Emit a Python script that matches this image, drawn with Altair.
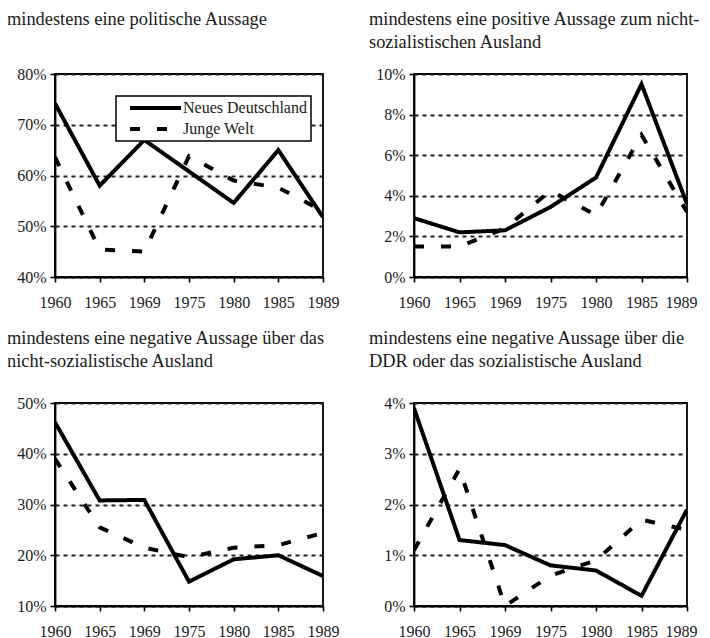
import altair as alt
import pandas as pd

years = ["1960", "1965", "1969", "1975", "1980", "1985", "1989"]
series = ["Neues Deutschland", "Junge Welt"]

# Panel 1: mindestens eine politische Aussage
p1_nd = [74.2, 58.0, 67.0, 60.8, 54.6, 65.0, 51.8]
p1_jw = [63.6, 45.4, 45.0, 63.8, 59.0, 57.6, 53.0]
# Panel 2: positive Aussage zum nicht-sozialistischen Ausland
p2_nd = [2.9, 2.2, 2.3, 3.45, 4.9, 9.5, 3.6]
p2_jw = [1.5, 1.5, 2.4, 4.25, 3.05, 7.0, 3.2]
# Panel 3: negative Aussage über das nicht-sozialistische Ausland
p3_nd = [46.2, 30.8, 30.9, 14.8, 19.2, 20.0, 15.9]
p3_jw = [39.0, 25.5, 21.5, 19.6, 21.5, 22.0, 24.4]
# Panel 4: negative Aussage über die DDR oder das sozialistische Ausland
p4_nd = [3.9, 1.3, 1.2, 0.8, 0.7, 0.2, 1.9]
p4_jw = [1.1, 2.7, 0.0, 0.6, 0.9, 1.7, 1.5]

titles = [
    ["mindestens eine politische Aussage", " "],
    ["mindestens eine positive Aussage zum nicht-", "sozialistischen Ausland"],
    ["mindestens eine negative Aussage über das", "nicht-sozialistische Ausland"],
    ["mindestens eine negative Aussage über die", "DDR oder das sozialistische Ausland"],
]
domains = [[40, 80], [0, 10], [10, 50], [0, 4]]
ticks = [[40, 50, 60, 70, 80], [0, 2, 4, 6, 8, 10], [10, 20, 30, 40, 50], [0, 1, 2, 3, 4]]

FONT = "Liberation Serif"
INK = "#1a1a1a"


def panel(nd, jw, dom, tk, title, dx, toff, width, shift_last=False, legend=False):
    df = pd.DataFrame({
        "Jahr": years * 2,
        "Serie": [series[0]] * len(years) + [series[1]] * len(years),
        "Wert": nd + jw,
    })
    if legend:
        leg = alt.Legend(
            title=None, orient="none", legendX=61, legendY=22,
            symbolType="stroke", symbolSize=2601, symbolStrokeWidth=4,
            symbolStrokeColor="black", symbolOffset=8, clipHeight=16,
            labelFont=FONT, labelFontSize=16, labelColor=INK, labelOffset=0,
            labelExpr="datum.label + '\u00a0\u00a0\u00a0\u00a0'",
            fillColor="white", strokeColor="black",
            padding=4, rowPadding=5,
        )
    else:
        leg = None
    xaxis = dict(title=None, labelAngle=0, tickSize=5, labelPadding=12, grid=False)
    if shift_last:
        xaxis["labelOffset"] = alt.ExprRef("datum.value == '1989' ? -6 : 0")
    return (
        alt.Chart(df, title=alt.TitleParams(
            text=title, anchor="start", frame="group", dx=dx, font=FONT,
            fontSize=18.4, fontWeight="normal", color=INK, lineHeight=23,
            offset=toff))
        .mark_line(strokeWidth=4, color="black", strokeJoin="miter", clip=True)
        .encode(
            x=alt.X("Jahr:O", sort=years,
                    scale=alt.Scale(type="point", padding=0),
                    axis=alt.Axis(**xaxis)),
            y=alt.Y("Wert:Q",
                    scale=alt.Scale(domain=dom, nice=False, zero=False),
                    axis=alt.Axis(title=None, values=tk, tickSize=5,
                                  labelPadding=4,
                                  labelExpr="datum.value + '%'",
                                  grid=True, gridDash=[4, 4],
                                  gridColor="#222222", gridWidth=1.8)),
            strokeDash=alt.StrokeDash(
                "Serie:N", sort=series,
                scale=alt.Scale(domain=series, range=[[1, 0], [10, 17]]),
                legend=leg),
        )
        .properties(width=width, height=203)
    )


c1 = panel(p1_nd, p1_jw, domains[0], ticks[0], titles[0], -48, 15, 268, legend=True)
c2 = panel(p2_nd, p2_jw, domains[1], ticks[1], titles[1], -45, 15, 273, shift_last=True)
c3 = panel(p3_nd, p3_jw, domains[2], ticks[2], titles[2], -48, 25, 268)
c4 = panel(p4_nd, p4_jw, domains[3], ticks[3], titles[3], -45, 25, 273, shift_last=True)

chart = (
    alt.concat(c1, c2, c3, c4, columns=2, bounds="flush",
               spacing={"row": 126, "column": 91})
    .resolve_legend(strokeDash="independent")
    .properties(padding={"left": -2, "top": 0, "right": 0, "bottom": 0},
                background="white")
    .configure_view(stroke="black", strokeWidth=1.8)
    .configure_axis(
        labelFont=FONT, labelFontSize=16, labelColor=INK,
        domainColor="black", domainWidth=1.8, tickColor="black", tickWidth=1.6,
    )
    .configure_legend(strokeWidth=1.5)
)

chart.save("out.html", embed_options={"renderer": "svg", "actions": False})
